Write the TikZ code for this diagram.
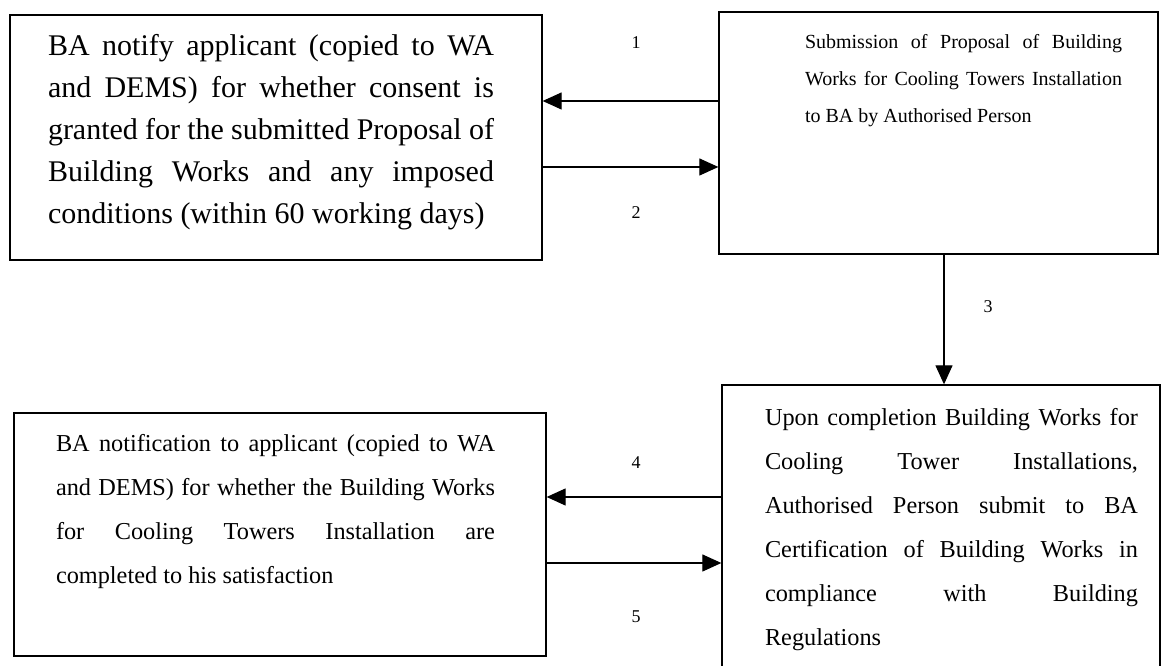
\documentclass[tikz,border=0pt]{standalone}
\usepackage{fontspec}
\setmainfont{Liberation Serif}
\usepackage{tikz}
\usetikzlibrary{arrows.meta,calc}

\begin{document}
\begin{tikzpicture}[x=1pt,y=1pt,
  box/.style={draw,line width=1.3pt,inner sep=0pt},
  txt/.style={inner sep=0pt,align=justify,text width=#1,
    execute at begin node={\tolerance=10000\hyphenpenalty=10000}},
  flow/.style={line width=1.2pt,-{Triangle[length=19pt,width=17pt]}},
  num/.style={font=\fontsize{18}{18}\selectfont,inner sep=0pt}]
\useasboundingbox (0,0) rectangle (1165,666);
\clip (0,0) rectangle (1165,666);

\node[box,minimum width=532pt,minimum height=245pt] (notify) at (276,528.5) {};
\node[box,minimum width=439pt,minimum height=242pt] (submit) at (938.5,533) {};
\node[box,minimum width=532pt,minimum height=243pt] (notice) at (280,131.5) {};
\node[box,minimum width=438pt,minimum height=291pt] (check) at (941,135.5) {};

\node[txt=446pt,font=\fontsize{30}{42}\selectfont] (notifytext) at (271,534) {BA notify applicant (copied to WA\linebreak
and DEMS) for whether consent is\linebreak
granted for the submitted Proposal of\linebreak
Building Works and any imposed\linebreak
conditions (within 60 working days)};
\node[txt=317pt,font=\fontsize{20}{37}\selectfont] (submittext) at (963.5,585) {Submission of Proposal of Building\linebreak
Works for Cooling Towers Installation\linebreak
to BA by Authorised Person};
\node[txt=439pt,font=\fontsize{24.3}{44}\selectfont] (noticetext) at (275.5,154) {BA notification to applicant (copied to WA\linebreak
and DEMS) for whether the Building Works\linebreak
for Cooling Towers Installation are\linebreak
completed to his satisfaction};
\node[txt=373pt,font=\fontsize{24.3}{44}\selectfont] (checktext) at (951.5,136) {Upon completion Building Works for\linebreak
Cooling Tower Installations,\linebreak
Authorised Person submit to BA\linebreak
Certification of Building Works in\linebreak
compliance with Building\linebreak
Regulations};

\draw[flow] ([yshift=32pt]submit.west) coordinate (s1) -- (s1 -| notify.east);
\path ([yshift=-34pt]submit.west) coordinate (s2);
\draw[flow] (s2 -| notify.east) -- (s2);
\draw[flow] ([xshift=5.5pt]submit.south) coordinate (s3) -- (s3 |- check.north);
\draw[flow] ([yshift=33.5pt]check.west) coordinate (s4) -- (s4 -| notice.east);
\path ([yshift=-32.5pt]check.west) coordinate (s5);
\draw[flow] (s5 -| notice.east) -- (s5);

\node[num] (n1) at (636,623) {1};
\node[num] (n2) at (636,453) {2};
\node[num] (n3) at (988,359) {3};
\node[num] (n4) at (636,203) {4};
\node[num] (n5) at (636,49) {5};
\end{tikzpicture}
\end{document}
